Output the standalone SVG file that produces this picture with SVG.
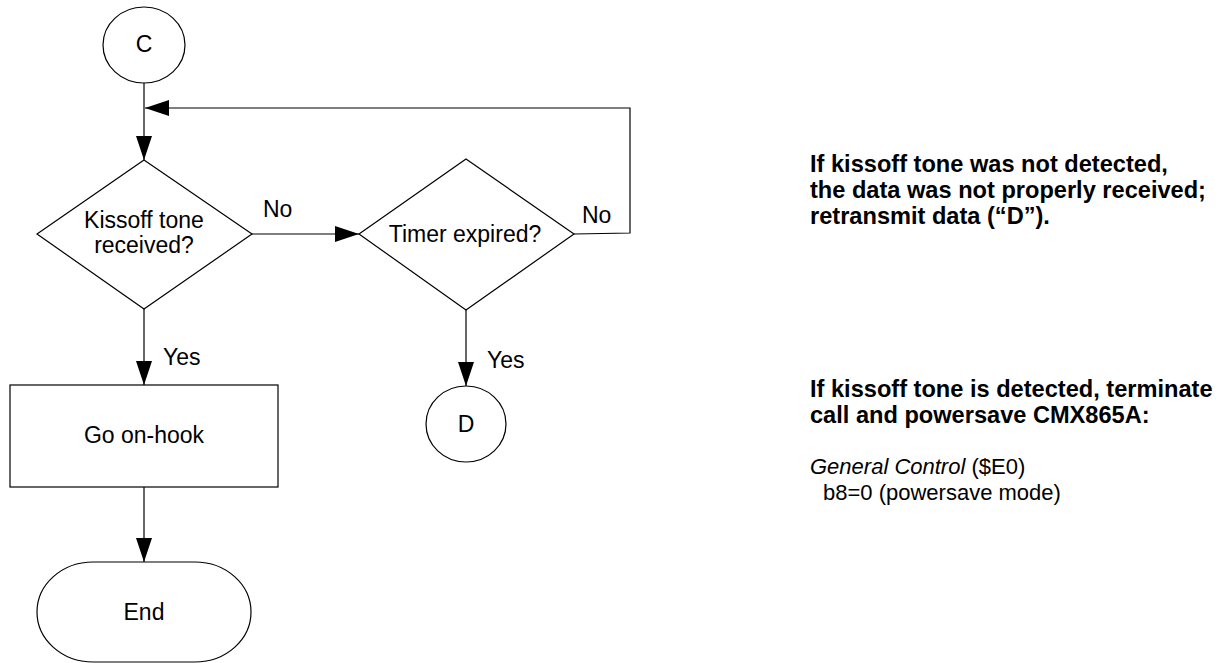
<svg xmlns="http://www.w3.org/2000/svg" width="1225" height="663" viewBox="0 0 1225 663">
<defs>
<style>
.shape{fill:#fff;stroke:#000;stroke-width:1.2}
.conn{fill:none;stroke:#000;stroke-width:1.2}
.t{font-family:"Liberation Sans",Arial,sans-serif;font-size:23px;fill:#000}
.c{text-anchor:middle}
.b{font-family:"Liberation Sans",Arial,sans-serif;font-size:23.6px;font-weight:bold;fill:#000}
.r{font-family:"Liberation Sans",Arial,sans-serif;font-size:22px;fill:#000}
</style>
<marker id="arr" markerUnits="userSpaceOnUse" markerWidth="24" markerHeight="16" refX="24" refY="8" orient="auto">
<path d="M0,0 L24,8 L0,16 z" fill="#000"/>
</marker>
</defs>
<rect width="1225" height="663" fill="#fff"/>
<g id="connectors">
<line class="conn" x1="144" y1="83" x2="144" y2="160" marker-end="url(#arr)"/>
<polyline class="conn" points="574,234 630,233 630,108 145,108" marker-end="url(#arr)"/>
<line class="conn" x1="252" y1="234" x2="359" y2="234" marker-end="url(#arr)"/>
<line class="conn" x1="144" y1="309" x2="144" y2="385" marker-end="url(#arr)"/>
<line class="conn" x1="466" y1="310" x2="466" y2="386" marker-end="url(#arr)"/>
<line class="conn" x1="144" y1="487" x2="144" y2="562" marker-end="url(#arr)"/>
<text class="t" x="263" y="217">No</text>
<text class="t" x="582" y="223">No</text>
<text class="t" x="163" y="365">Yes</text>
<text class="t" x="487" y="368">Yes</text>
</g>
<g id="node-c">
<ellipse class="shape" cx="144" cy="45" rx="41" ry="38"/>
<text class="t c" x="144" y="52">C</text>
</g>
<g id="node-kissoff">
<polygon class="shape" points="144,160 252,234 144,309 37,234"/>
<text class="t c" x="144" y="228">Kissoff tone</text>
<text class="t c" x="144" y="253">received?</text>
</g>
<g id="node-timer">
<polygon class="shape" points="466,159 574,234 466,310 359,234"/>
<text class="t c" x="465" y="242">Timer expired?</text>
</g>
<g id="node-d">
<ellipse class="shape" cx="466" cy="424" rx="40" ry="38"/>
<text class="t c" x="466" y="432">D</text>
</g>
<g id="node-onhook">
<rect class="shape" x="10" y="385" width="268" height="102"/>
<text class="t c" x="144" y="443">Go on-hook</text>
</g>
<g id="node-end">
<rect class="shape" x="37" y="562" width="214" height="100" rx="56" ry="50"/>
<text class="t c" x="144" y="620">End</text>
</g>
<g id="note-1">
<text class="b" x="810" y="172">If kissoff tone was not detected,</text>
<text class="b" x="810" y="198">the data was not properly received;</text>
<text class="b" x="810" y="224">retransmit data (“D”).</text>
</g>
<g id="note-2">
<text class="b" x="810" y="397">If kissoff tone is detected, terminate</text>
<text class="b" x="810" y="423">call and powersave CMX865A:</text>
<text class="r" x="810" y="474"><tspan font-style="italic">General Control</tspan> ($E0)</text>
<text class="r" x="823" y="500">b8=0 (powersave mode)</text>
</g>
</svg>
